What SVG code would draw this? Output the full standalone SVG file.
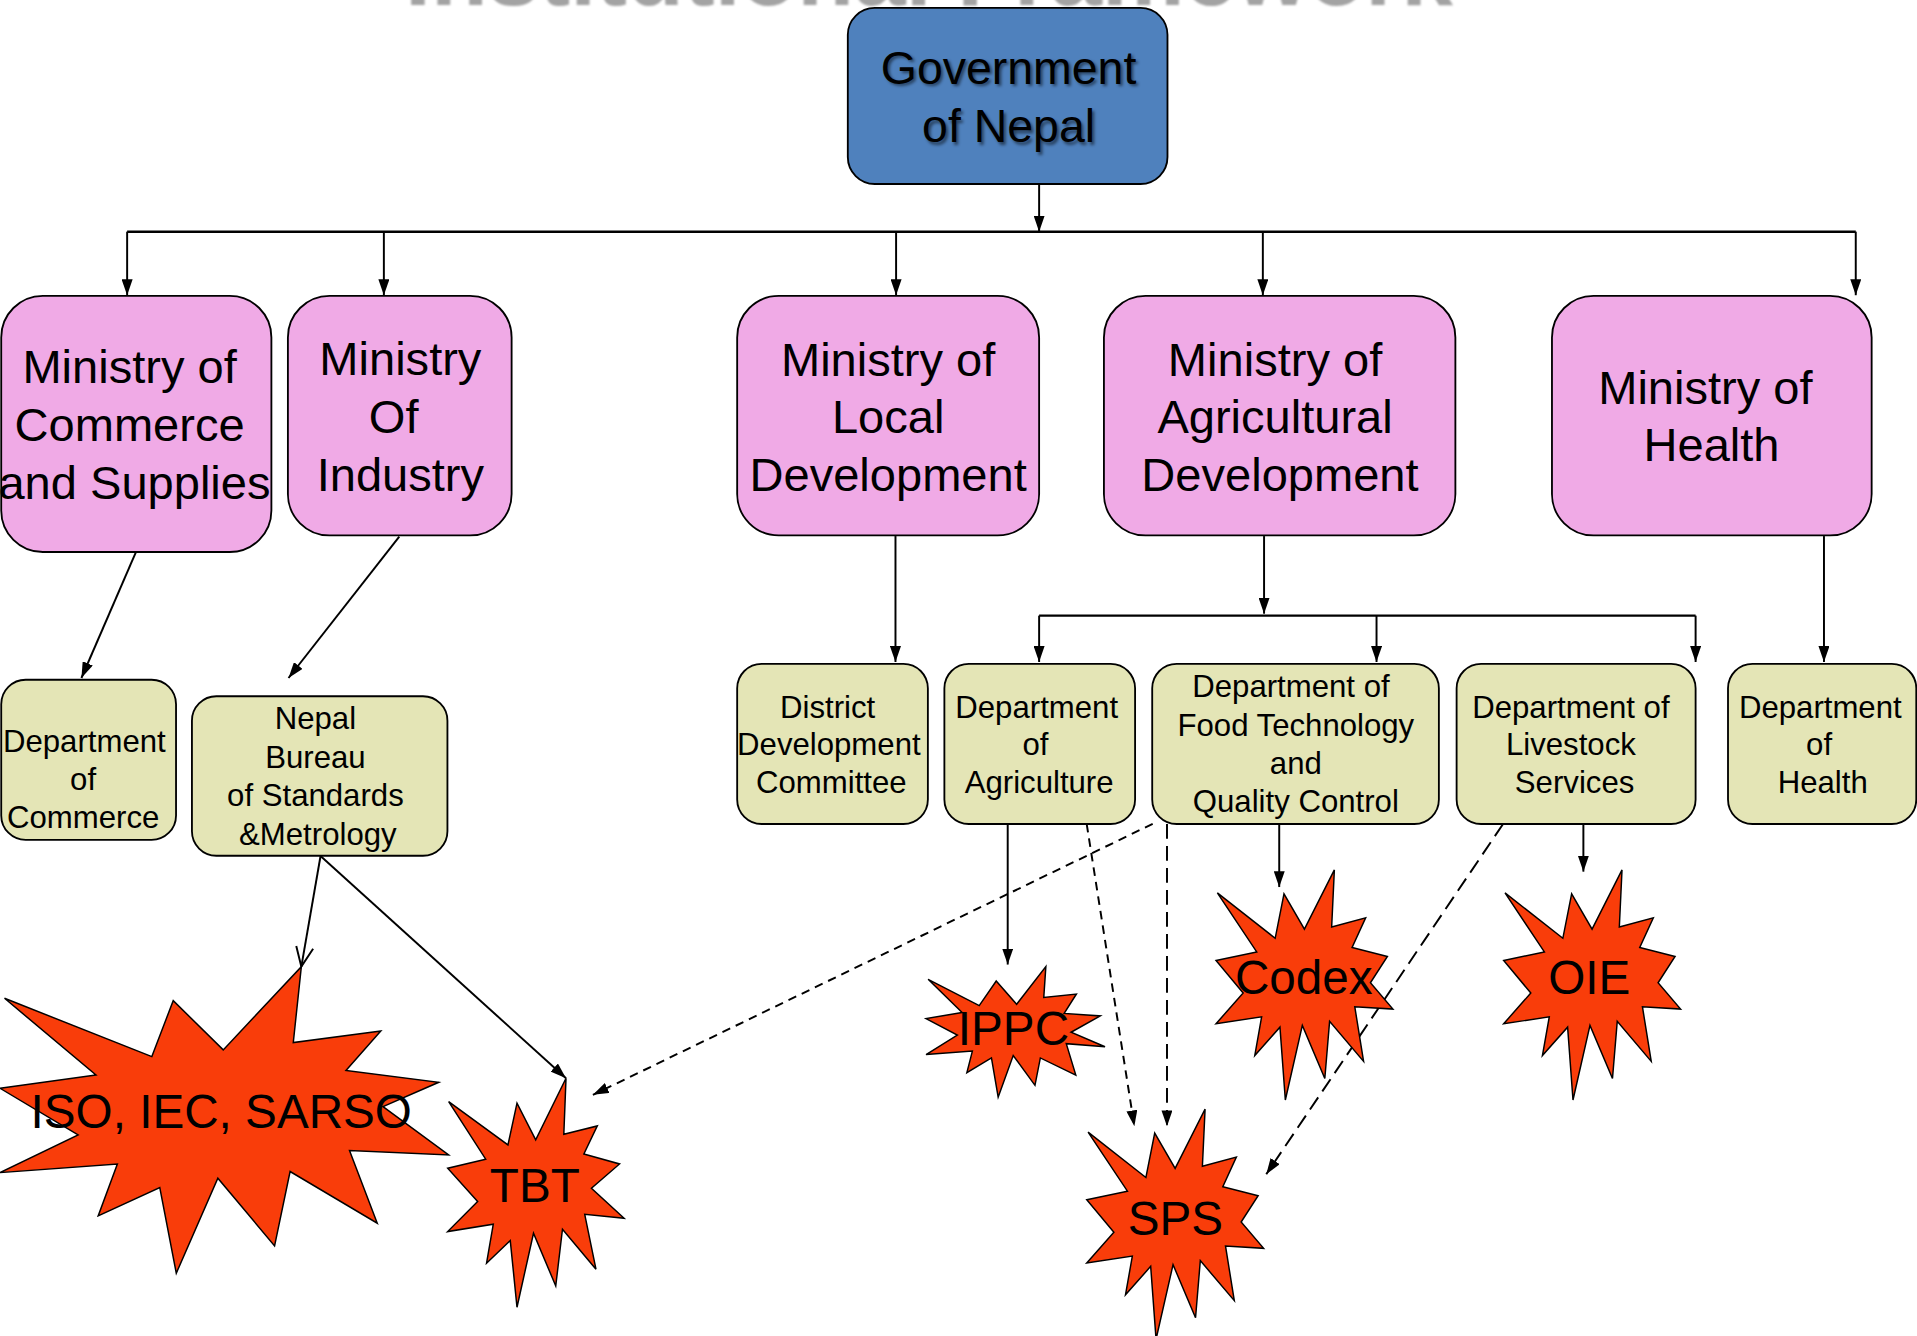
<svg xmlns="http://www.w3.org/2000/svg" xmlns:xlink="http://www.w3.org/1999/xlink" width="1917" height="1336" viewBox="0 0 1917 1336">
<style>
text{font-family:"Liberation Sans",Arial,sans-serif;text-anchor:middle;fill:#000}
.gov{fill:#4F81BD;stroke:#000;stroke-width:1.5}
.min{fill:#F0AAE6;stroke:#000;stroke-width:1.5}
.dep{fill:#E4E5B6;stroke:#000;stroke-width:1.5}
.star{fill:#F93D0A;stroke:#000;stroke-width:1.2}
.big{font-size:38.5px}
.sm{font-size:25.5px}
.lbl{font-size:39px}
.govt{font-size:38px}
.shadow{fill:#000;opacity:0.5}
.title{font-size:76px;font-weight:bold}
.c{fill:none;stroke:#000;stroke-width:1.6}
.d1{stroke-dasharray:7 5}
.d2{stroke-dasharray:12 6}
</style>
<defs>
<filter id="blur" x="-5%" y="-20%" width="110%" height="140%">
<feGaussianBlur stdDeviation="1.2"/>
</filter>
<filter id="blur2" x="-5%" y="-20%" width="110%" height="140%">
<feGaussianBlur stdDeviation="0.8"/>
</filter>
<marker id="ah" markerUnits="userSpaceOnUse" markerWidth="13" markerHeight="9" refX="13" refY="4.5" orient="auto">
<path d="M0,0 L13,4.5 L0,9 z" fill="#000"/>
</marker>
<marker id="av" markerUnits="userSpaceOnUse" markerWidth="18" markerHeight="14" refX="16" refY="7" orient="auto" overflow="visible">
<path d="M0,0 L16,7 L0,14" fill="none" stroke="#000" stroke-width="1.6"/>
</marker>
<polygon id="burst" points="1091.5,711.6 1089.3,758.3 1117.1,750.8 1106.0,775.1 1134.9,782.4 1121.0,803.9 1139.4,825.4 1108.2,823.5 1115.4,868.2 1087.6,835.5 1083.7,882.2 1065.3,838.8 1051.4,899.8 1047.0,840.2 1026.4,863.4 1032.0,831.8 994.7,837.4 1016.9,812.3 994.7,785.7 1028.0,778.7 995.8,730.4 1043.1,767.5 1050.3,731.2 1067.0,760.0"/>
</defs>
<rect width="1917" height="1336" fill="#fff"/>
<g transform="scale(1.2225)">
<g id="title">
<text class="title" x="760" y="4.2" style="fill:#A3A3A3" filter="url(#blur2)">Institutional Framework</text>
<text class="title" x="759" y="-1.2" style="fill:#E02020">Institutional Framework</text>
</g>
<g id="connectors">
<line class="c" x1="850" y1="150.5" x2="850" y2="189.5" marker-end="url(#ah)"/>
<line class="c" x1="104" y1="189.5" x2="1518" y2="189.5" style="stroke-width:2"/>
<line class="c" x1="104" y1="189.5" x2="104" y2="241.5" marker-end="url(#ah)"/>
<line class="c" x1="314" y1="189.5" x2="314" y2="241.5" marker-end="url(#ah)"/>
<line class="c" x1="733" y1="189.5" x2="733" y2="241.5" marker-end="url(#ah)"/>
<line class="c" x1="1033" y1="189.5" x2="1033" y2="241.5" marker-end="url(#ah)"/>
<line class="c" x1="1518" y1="189.5" x2="1518" y2="241.5" marker-end="url(#ah)"/>
<line class="c" x1="111" y1="452" x2="66.6" y2="554.6" marker-end="url(#ah)"/>
<line class="c" x1="326.6" y1="439" x2="236" y2="554.6" marker-end="url(#ah)"/>
<line class="c" x1="732.5" y1="438.5" x2="732.5" y2="541.5" marker-end="url(#ah)"/>
<line class="c" x1="1034" y1="438.5" x2="1034" y2="502" marker-end="url(#ah)"/>
<line class="c" x1="850" y1="503.6" x2="1387" y2="503.6" style="stroke-width:2"/>
<line class="c" x1="850" y1="503.6" x2="850" y2="541.5" marker-end="url(#ah)"/>
<line class="c" x1="1126" y1="503.6" x2="1126" y2="541.5" marker-end="url(#ah)"/>
<line class="c" x1="1387" y1="503.6" x2="1387" y2="541.5" marker-end="url(#ah)"/>
<line class="c" x1="1492" y1="438.5" x2="1492" y2="541.5" marker-end="url(#ah)"/>
<line class="c" x1="262.2" y1="700.2" x2="246.5" y2="790.7" marker-end="url(#av)"/>
<line class="c" x1="262.2" y1="700.2" x2="463" y2="882" marker-end="url(#ah)"/>
<line class="c d1" x1="942.9" y1="673.9" x2="485" y2="895.6" marker-end="url(#ah)"/>
<line class="c" x1="824.3" y1="674" x2="824.3" y2="789" marker-end="url(#ah)"/>
<line class="c d1" x1="888.9" y1="674" x2="927.9" y2="921.3" marker-end="url(#ah)"/>
<line class="c d2" x1="954.6" y1="674" x2="954.6" y2="921.3" marker-end="url(#ah)"/>
<line class="c" x1="1046.4" y1="674" x2="1046.4" y2="725.6" marker-end="url(#ah)"/>
<line class="c d2" x1="1229.5" y1="674" x2="1035.8" y2="960.5" marker-end="url(#ah)"/>
<line class="c" x1="1295.2" y1="674" x2="1295.2" y2="713" marker-end="url(#ah)"/>
</g>
<g id="gov">
<rect class="gov" x="693.5" y="6.5" width="261.5" height="144" rx="22"/>
<text class="govt shadow" x="826.8" y="70.3" filter="url(#blur)">Government</text>
<text class="govt shadow" x="826.8" y="118.3" filter="url(#blur)">of Nepal</text>
<text class="govt" x="825" y="68.5">Government</text>
<text class="govt" x="825" y="116.5">of Nepal</text>
</g>
<g id="min-commerce">
<rect class="min" x="1" y="242" width="221" height="209.5" rx="34"/>
<text class="big" x="106" y="313.5">Ministry of</text>
<text class="big" x="106" y="361">Commerce</text>
<text class="big" x="110" y="408.5">and Supplies</text>
</g>
<g id="min-industry">
<rect class="min" x="235.5" y="242" width="183" height="196" rx="34"/>
<text class="big" x="327.5" y="307">Ministry</text>
<text class="big" x="322" y="354.5">Of</text>
<text class="big" x="327.5" y="401.5">Industry</text>
</g>
<g id="min-local">
<rect class="min" x="603" y="242" width="247" height="196" rx="34"/>
<text class="big" x="726.5" y="307.5">Ministry of</text>
<text class="big" x="726.5" y="354.5">Local</text>
<text class="big" x="726.5" y="401.5">Development</text>
</g>
<g id="min-agri">
<rect class="min" x="903" y="242" width="287.5" height="196" rx="34"/>
<text class="big" x="1043" y="307.5">Ministry of</text>
<text class="big" x="1043" y="354.5">Agricultural</text>
<text class="big" x="1047" y="401.5">Development</text>
</g>
<g id="min-health">
<rect class="min" x="1269.5" y="242" width="261.5" height="196" rx="34"/>
<text class="big" x="1395" y="330.5">Ministry of</text>
<text class="big" x="1400" y="377.5">Health</text>
</g>
<g id="dep-commerce">
<rect class="dep" x="1" y="556" width="143" height="131" rx="20"/>
<text class="sm" x="69" y="615.5">Department</text>
<text class="sm" x="68" y="646.5">of</text>
<text class="sm" x="68" y="677.5">Commerce</text>
</g>
<g id="nbsm">
<rect class="dep" x="157" y="569.5" width="209" height="130.5" rx="20"/>
<text class="sm" x="258" y="596">Nepal</text>
<text class="sm" x="258" y="628">Bureau</text>
<text class="sm" x="258" y="659.5">of Standards</text>
<text class="sm" x="260" y="691">&amp;Metrology</text>
</g>
<g id="district">
<rect class="dep" x="603" y="543" width="156" height="131" rx="20"/>
<text class="sm" x="677" y="587">District</text>
<text class="sm" x="678" y="617.5">Development</text>
<text class="sm" x="680" y="649">Committee</text>
</g>
<g id="dep-agri">
<rect class="dep" x="772.5" y="543" width="156" height="131" rx="20"/>
<text class="sm" x="848" y="587">Department</text>
<text class="sm" x="847" y="617.5">of</text>
<text class="sm" x="850" y="649">Agriculture</text>
</g>
<g id="dep-food">
<rect class="dep" x="942.5" y="543" width="234.5" height="131" rx="20"/>
<text class="sm" x="1056" y="570.5">Department of</text>
<text class="sm" x="1060" y="602">Food Technology</text>
<text class="sm" x="1060" y="633">and</text>
<text class="sm" x="1060" y="664.5">Quality Control</text>
</g>
<g id="dep-livestock">
<rect class="dep" x="1191.5" y="543" width="195.5" height="131" rx="20"/>
<text class="sm" x="1285" y="587">Department of</text>
<text class="sm" x="1285" y="617.5">Livestock</text>
<text class="sm" x="1288" y="649">Services</text>
</g>
<g id="dep-health">
<rect class="dep" x="1413.5" y="543" width="154" height="131" rx="20"/>
<text class="sm" x="1489" y="587">Department</text>
<text class="sm" x="1488" y="617.5">of</text>
<text class="sm" x="1491" y="649">Health</text>
</g>
<g id="iso">
<polygon class="star" points="246.5,790.7 239.9,852.8 311.5,843.3 283.0,875.7 358.9,885.3 313.3,905.2 367.0,944.7 285.9,941.2 308.6,1000.6 237.3,958.3 224.6,1019.1 178.2,963.8 144.2,1041.5 130.7,971.4 80.3,994.6 96.0,952.1 0,959.2 63.9,928.4 0,890.2 78.5,879.3 3.7,816.6 124.2,864.3 141.7,818.5 182.6,858.8"/>
<text class="lbl" x="181" y="923">ISO, IEC, SARSO</text>
</g>
<g id="tbt">
<polygon class="star" points="463.0,882.0 461.2,927.8 488.6,921.0 477.6,943.9 506.8,952.1 483.8,972.0 510.5,996.5 478.3,993.3 487.5,1038.2 460.1,1005.5 454.6,1051.9 436.4,1008.8 422.9,1069.3 417.4,1014.8 398.0,1033.3 403.5,1001.4 366.2,1007.4 390.7,982.9 366.2,955.6 397.3,948.2 367.0,901.1 415.5,936.5 422.9,902.4 438.2,932.4"/>
<text class="lbl" x="437.5" y="983">TBT</text>
</g>
<g id="ippc">
<polygon class="star" points="855.5,790.7 853.8,815.9 880.5,813.1 870.5,829.0 900.0,831.0 876.1,844.4 903.9,856.2 872.2,853.7 880.0,879.4 851.0,865.4 846.6,887.8 828.8,863.4 816.5,897.5 811.0,865.4 790.9,877.4 795.4,859.8 757.5,862.6 783.1,846.7 757.5,833.2 787.0,828.2 759.2,801.1 801.0,822.6 814.9,802.5 831.6,821.5"/>
<text class="lbl" x="829" y="855">IPPC</text>
</g>
<g id="codex">
<use xlink:href="#burst" class="star"/>
<text class="lbl" x="1066.5" y="813">Codex</text>
</g>
<g id="oie">
<use xlink:href="#burst" class="star" transform="translate(235.3,0)"/>
<text class="lbl" x="1300" y="813">OIE</text>
</g>
<g id="sps">
<use xlink:href="#burst" class="star" transform="translate(-105.75,195.7)"/>
<text class="lbl" x="961.5" y="1010">SPS</text>
</g>
</g>
</svg>
